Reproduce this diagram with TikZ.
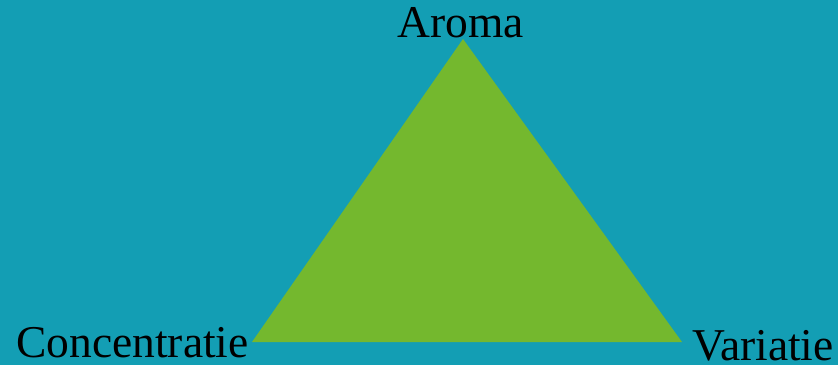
\documentclass[tikz,border=0pt]{standalone}
\usepackage{fontspec}
\setmainfont{Liberation Serif}
\usepackage{xcolor}
\usepackage{tikz}
\usetikzlibrary{positioning}
\definecolor{bgteal}{HTML}{139EB4}
\definecolor{trigreen}{HTML}{74B82E}

\begin{document}
\begin{tikzpicture}[x=1pt,y=1pt,
    lbl/.style={inner sep=0pt,text depth=0pt,font=\fontsize{45.5}{50}\selectfont,text=black}]
  \fill[bgteal] (0,0) rectangle (838,365);
  \useasboundingbox (0,0) rectangle (838,365);
  \coordinate (top) at (463,326);
  \coordinate (left) at (252,23);
  \coordinate (right) at (682,23);
  \fill[trigreen] (top) -- (left) -- (right) -- cycle;
  \node[lbl,anchor=base] (aroma) at (460.5,327) {Aroma};
  \node[lbl,anchor=base east] (conc) at (249,8) {Concentratie};
  \node[lbl,anchor=base west] (var) at (692,5) {Variatie};
\end{tikzpicture}
\end{document}
